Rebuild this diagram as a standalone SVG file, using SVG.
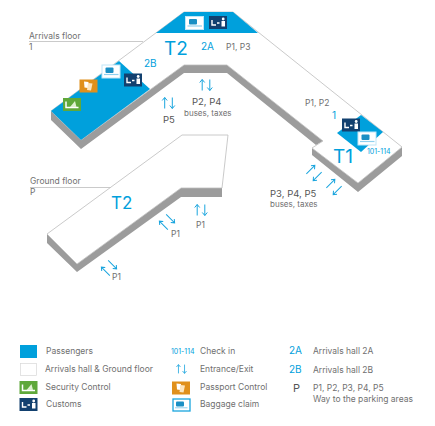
<svg xmlns="http://www.w3.org/2000/svg" width="435" height="426" viewBox="0 0 435 426">
<style>
text{font-family:"Inter","Liberation Sans",sans-serif;fill:#707070;font-size:8.5px}
.b{fill:#00a0dc}.big{font-size:19px}.mid{font-size:10px}.dk{fill:#555;font-size:9.5px}.sm{font-size:8px}.chk{font-size:7px}
.s{fill:#9c9c9c}.ln{fill:none;stroke:#bdbdbd;stroke-width:.8}
.ar{fill:none;stroke:#1aa5de;stroke-width:1}
.w{fill:#fff;stroke:#d8d8d8;stroke-width:.7}
</style>
<defs>
<g id="arr" class="ar"><path d="M-3.800 5.500V-5.500M-6.300 -2.500L-3.800 -5.500L-1.300 -2.500M3.800 -5.500V5.500M1.300 2.500L3.800 5.500L6.300 2.500"/></g>
<g id="arrd" class="ar"><path d="M-4.800 6V-6M-7.300 -3L-4.800 -6L-2.300 -3M4.800 -6V6M2.300 3L4.800 6L7.300 3"/></g>
<g id="cust"><rect x="-9" y="-6.500" width="18" height="13" fill="#12406f"/><path d="M-6 -2.500V2.500H-2M-1 .5H1.500" fill="none" stroke="#fff" stroke-width="1.400"/><path d="M3.500 -1.500H7V4H3.500Z" fill="#fff"/><circle cx="5.200" cy="-3.500" r="1.400" fill="#fff"/></g>
<g id="bag"><rect x="-9" y="-6.500" width="18" height="13" fill="#fff" stroke="#bfe6f7" stroke-width="1"/><rect x="-5.500" y="-4" width="8" height="5.500" rx="1" fill="#1a8fc4"/><path d="M-7 3H7.500" stroke="#8fd0ee" stroke-width="1.200"/></g>
<g id="bagl"><rect x="-8.500" y="-6" width="17" height="12" fill="#fff" stroke="#1aa5de" stroke-width="1.300"/><rect x="-5.500" y="-3.500" width="8" height="5" rx="1" fill="#1a8fc4"/><path d="M-6.500 2.800H6" stroke="#8fd0ee" stroke-width="1"/></g>
<g id="sec"><rect x="-9" y="-6.500" width="18" height="13" fill="#5fa83a"/><path d="M-6 -3V3H6.500" fill="none" stroke="#fff" stroke-width="1.500"/><path d="M-2 2.500L1 -1L3 -3.500L4.500 2.500Z" fill="#dff0d0"/></g>
<g id="pass"><rect x="-9" y="-6.500" width="18" height="13" fill="#e0901c"/><path d="M-4.500 -4.500L0 -4L-.5 2L-4 1.500Z" fill="#fff"/><path d="M-.5 -3L4 -2.500L2.500 4.500L-1.500 4Z" fill="#fde6c0"/></g>
</defs>
<g id="connectors">
<path class="ln" d="M29 41.500H143M30 187.500H111"/>
</g>
<g id="floor-1">
<path class="s" d="M51 111V120L81 149V140ZM81 140V149L184 73H227L316 145L323 141L227 65H184Z"/>
<path class="s" d="M312 148V155L358 192V183ZM358 183V192L402 156V147Z"/>
<path d="M51 111L184 12H233L402 147L358 183L312 148L323 141L227 65H184L81 140Z" fill="#fff" stroke="#bdbdbd" stroke-width=".8"/>
<path class="b" d="M156 33L184 12H233L258 33Z"/>
<path class="b" d="M51 111L119 61L150 89L81 140Z"/>
<path class="b" d="M361 115L383 132L361 152L337 133Z"/>
</g>
<g id="floor-p">
<path class="s" d="M47 234V243L77 272V264ZM77 264V272L181 197H222V188H181Z"/>
<path d="M47 234L182 135H228L222 188H181L77 264Z" fill="#fff" stroke="#bdbdbd" stroke-width=".8"/>
</g>
<g id="icons">
<use href="#bag" x="194.500" y="23"/><use href="#cust" x="218" y="22.500"/>
<use href="#bag" x="111" y="71.500"/><use href="#cust" x="133" y="80"/>
<use href="#pass" x="88.500" y="86"/><use href="#sec" x="72" y="104.500"/>
<use href="#cust" x="351" y="125"/><use href="#bag" x="367" y="138.500"/>
</g>
<g id="labels">
<text x="29" y="39">Arrivals floor</text><text x="29" y="50">1</text>
<text x="30" y="184">Ground floor</text><text x="30" y="195">P</text>
<text class="b big" x="164" y="55">T2</text>
<text class="b" style="font-size:17px" x="111" y="209">T2</text>
<text class="b big" x="333" y="163">T1</text>
<text class="b mid" x="201" y="50">2A</text><text class="b mid" x="144" y="67">2B</text>
<text x="226" y="50">P1, P3</text><text x="305" y="106">P1, P2</text>
<text class="b mid" x="332" y="119">1</text><text class="b chk" x="367" y="154">101-114</text>
<use href="#arr" x="206" y="85"/><use href="#arr" x="168.500" y="103"/>
<text class="dk" x="192" y="105">P2, P4</text><text class="sm" x="184" y="116">buses, taxes</text>
<text class="dk" x="163" y="123">P5</text>
<text class="dk" x="270" y="197">P3, P4, P5</text><text class="sm" x="270" y="207">buses, taxes</text>
<use href="#arr" x="201" y="210"/><use href="#arrd" x="167" y="222" transform="rotate(-45 167 222)"/>
<use href="#arrd" x="109" y="268" transform="rotate(-45 109 268)"/>
<use href="#arrd" x="314" y="173" transform="rotate(45 314 173)"/><use href="#arrd" x="334" y="187" transform="rotate(45 334 187)"/>
<text x="171" y="237">P1</text><text x="196" y="228">P1</text><text x="112" y="280">P1</text>
</g>
<g id="legend">
<rect x="20" y="345" width="17" height="13" fill="#00a0dc"/>
<rect x="20.500" y="363.500" width="16" height="12" class="w"/>
<use href="#sec" x="28.500" y="387.500"/><use href="#cust" x="28.500" y="404.500"/>
<text x="46" y="354">Passengers</text><text x="45" y="372">Arrivals hall &amp; Ground floor</text>
<text x="45.500" y="390">Security Control</text><text x="46" y="407">Customs</text>
<text class="b chk" x="171" y="354">101-114</text>
<use href="#arr" x="181.500" y="369" transform="translate(181.500 369) scale(.8) translate(-181.500 -369)"/>
<use href="#pass" x="181" y="388"/><use href="#bagl" x="181.500" y="405"/>
<text x="200" y="354">Check in</text><text x="200" y="372">Entrance/Exit</text>
<text x="200" y="390">Passport Control</text><text x="200" y="407">Baggage claim</text>
<text class="b mid" x="289" y="354">2A</text><text class="b mid" x="289" y="373">2B</text>
<text class="dk" x="293" y="392" style="font-size:11px">P</text>
<text x="313" y="354">Arrivals hall 2A</text><text x="313" y="373">Arrivals hall 2B</text>
<text x="313" y="391">P1, P2, P3, P4, P5</text><text x="313" y="402">Way to the parking areas</text>
</g>
</svg>
